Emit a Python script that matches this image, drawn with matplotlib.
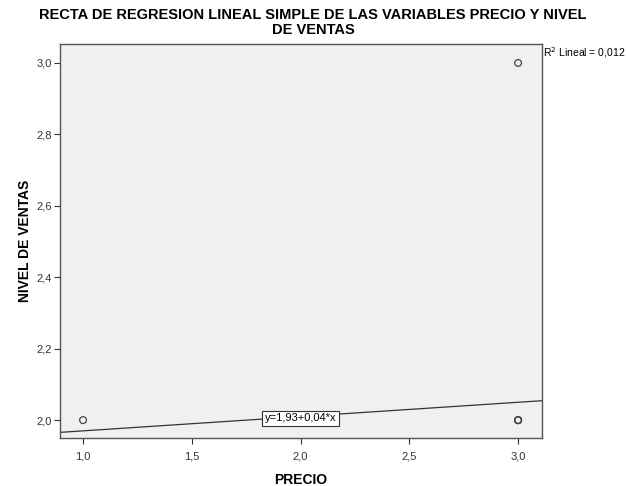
import matplotlib
matplotlib.use("Agg")
import matplotlib.pyplot as plt
import numpy as np

plt.rcParams['font.family'] = ['Liberation Sans', 'DejaVu Sans']

precio = [1.0, 3.0, 3.0, 3.0, 3.0]
nivel_ventas = [2.0, 3.0, 2.0, 2.0, 2.0]
intercept = 1.93
slope = 0.04
r2 = 0.012
xticks = [1.0, 1.5, 2.0, 2.5, 3.0]
yticks = [2.0, 2.2, 2.4, 2.6, 2.8, 3.0]

fig = plt.figure(figsize=(6.26, 4.86), dpi=100)
ax = fig.add_axes([60/626, 1-438/486, (542-60)/626, (438-44)/486])
ax.set_facecolor('#f0f0f0')

ax.scatter(precio, nivel_ventas, s=24, facecolors='none', edgecolors='#444444', linewidths=0.9, zorder=3)
ax.set_xlim(0.894, 3.11)
ax.set_ylim(1.95, 3.053)
xl = np.array(ax.get_xlim())
ax.plot(xl, intercept + slope * xl, color='#333333', lw=0.9, zorder=2)

ax.set_xticks(xticks)
ax.set_yticks(yticks)
fmt = lambda v: f"{v:.1f}".replace('.', ',')
ax.set_xticklabels([fmt(v) for v in xticks], fontsize=8, color='#333333')
ax.set_yticklabels([fmt(v) for v in yticks], fontsize=8, color='#333333')
ax.tick_params(direction='out', length=4, width=0.8, color='#333333')
ax.tick_params(axis='x', pad=6)
ax.tick_params(axis='y', pad=2)
for s in ax.spines.values():
    s.set_color('#555555')
    s.set_linewidth(1.0)

ax.set_xlabel('PRECIO', fontsize=10, fontweight='bold', labelpad=8)
ax.set_ylabel('NIVEL DE VENTAS', fontsize=10, fontweight='bold', labelpad=3)

ax.text(2.0, intercept + slope * 2.0 - 0.005, 'y=1,93+0,04*x', fontsize=8, ha='center', va='center',
        bbox=dict(boxstyle='square,pad=0.25', facecolor='white', edgecolor='#333333', linewidth=0.8), zorder=4)

fig.text(543/626, 1-53/486, 'R$^2$ Lineal = 0,012', fontsize=7.5, ha='left', va='center')

fig.text(0.5, 1-22.5/486, 'RECTA DE REGRESION LINEAL SIMPLE DE LAS VARIABLES PRECIO Y NIVEL\nDE VENTAS',
         fontsize=10.5, fontweight='bold', ha='center', va='center', linespacing=1.05)

fig.savefig('out.png', dpi=100)
